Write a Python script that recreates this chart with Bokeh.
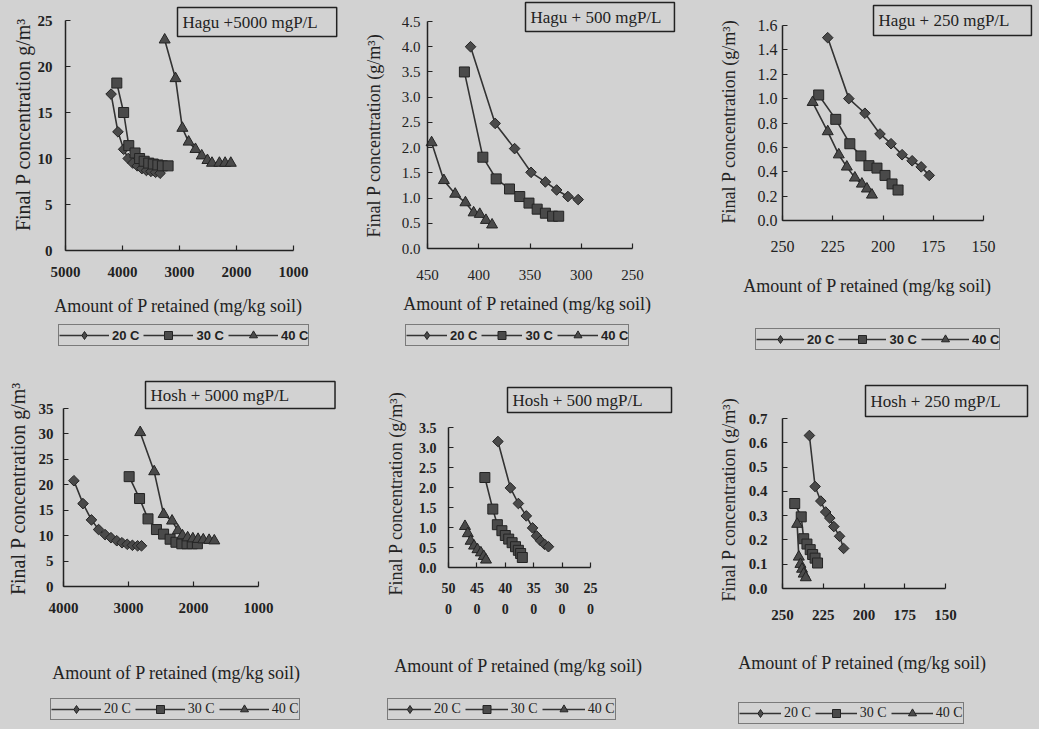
import math
from bokeh.plotting import figure
from bokeh.models import (Range1d, FixedTicker, Label, Legend, LegendItem,
                          PrintfTickFormatter, LinearAxis)
from bokeh.layouts import column, row
from bokeh.embed import file_html
from bokeh.resources import INLINE

# ---------------- data ----------------
temps = ["20 C", "30 C", "40 C"]
titles = ["Hagu +5000 mgP/L", "Hagu + 500 mgP/L", "Hagu + 250 mgP/L",
          "Hosh + 5000 mgP/L", "Hosh + 500 mgP/L", "Hosh + 250 mgP/L"]
x_title = "Amount of P retained (mg/kg soil)"
y_title_a = "Final P concentration g/m\u00b3"
y_title_b = "Final P concentration (g/m\u00b3)"

# Hagu + 5000 mgP/L
hagu5000_ret_20 = [4200, 4080, 3980, 3900, 3820, 3740, 3660, 3580, 3500, 3420, 3340]
hagu5000_p_20 = [17.0, 12.9, 11.0, 10.0, 9.5, 9.2, 8.9, 8.7, 8.6, 8.5, 8.4]
hagu5000_ret_30 = [4100, 3980, 3890, 3780, 3700, 3620, 3540, 3460, 3380, 3300, 3200]
hagu5000_p_30 = [18.2, 15.0, 11.4, 10.6, 10.0, 9.7, 9.5, 9.4, 9.3, 9.2, 9.2]
hagu5000_ret_40 = [3260, 3070, 2950, 2840, 2720, 2610, 2510, 2430, 2300, 2200, 2100]
hagu5000_p_40 = [22.9, 18.7, 13.3, 11.8, 11.0, 10.3, 9.8, 9.5, 9.5, 9.5, 9.5]

# Hagu + 500 mgP/L
hagu500_ret_20 = [408, 384, 365, 349, 335, 324, 313, 303]
hagu500_p_20 = [4.0, 2.48, 1.98, 1.51, 1.32, 1.16, 1.03, 0.97]
hagu500_ret_30 = [414, 396, 383, 370, 360, 351, 343, 335, 328, 322]
hagu500_p_30 = [3.5, 1.81, 1.38, 1.18, 1.03, 0.90, 0.78, 0.70, 0.64, 0.64]
hagu500_ret_40 = [446, 434, 423, 413, 405, 399, 393, 387]
hagu500_p_40 = [2.1, 1.35, 1.08, 0.91, 0.71, 0.68, 0.56, 0.47]

# Hagu + 250 mgP/L
hagu250_ret_20 = [227.5, 217, 209, 201.5, 196, 190.5, 185.5, 181, 177]
hagu250_p_20 = [1.5, 1.0, 0.88, 0.71, 0.63, 0.54, 0.49, 0.44, 0.37]
hagu250_ret_30 = [232, 223.5, 216.5, 211, 207, 203, 199, 195.5, 192.5]
hagu250_p_30 = [1.03, 0.83, 0.63, 0.53, 0.45, 0.43, 0.37, 0.30, 0.25]
hagu250_ret_40 = [235, 227.5, 222, 218, 214, 210.5, 208, 205.5]
hagu250_p_40 = [0.97, 0.73, 0.54, 0.44, 0.35, 0.30, 0.26, 0.21]

# Hosh + 5000 mgP/L
hosh5000_ret_20 = [3840, 3700, 3570, 3460, 3360, 3270, 3180, 3100, 3020, 2940, 2860, 2800]
hosh5000_p_20 = [20.8, 16.3, 13.1, 11.2, 10.2, 9.6, 9.0, 8.6, 8.3, 8.1, 8.0, 8.0]
hosh5000_ret_30 = [2990, 2830, 2700, 2570, 2460, 2360, 2270, 2180, 2100, 2020, 1940]
hosh5000_p_30 = [21.6, 17.3, 13.3, 11.2, 10.3, 9.3, 8.7, 8.4, 8.4, 8.4, 8.4]
hosh5000_ret_40 = [2820, 2605, 2460, 2330, 2240, 2170, 2090, 2010, 1930, 1850, 1760, 1680]
hosh5000_p_40 = [30.3, 22.6, 14.2, 12.9, 11.0, 10.0, 9.6, 9.4, 9.3, 9.2, 9.1, 9.0]

# Hosh + 500 mgP/L
hosh500_ret_20 = [413, 391, 377, 363, 352, 345, 338, 331, 324]
hosh500_p_20 = [3.15, 1.99, 1.60, 1.29, 0.99, 0.79, 0.67, 0.58, 0.52]
hosh500_ret_30 = [436, 422, 414, 406, 400, 394, 388, 382, 377, 373, 370]
hosh500_p_30 = [2.25, 1.46, 1.07, 0.92, 0.80, 0.71, 0.62, 0.52, 0.43, 0.35, 0.25]
hosh500_ret_40 = [471, 466, 461, 455, 449, 443, 438, 434]
hosh500_p_40 = [1.03, 0.85, 0.66, 0.54, 0.45, 0.37, 0.28, 0.19]

# Hosh + 250 mgP/L
hosh250_ret_20 = [233.5, 230, 226.5, 223.5, 221, 218.5, 215, 212.5]
hosh250_p_20 = [0.63, 0.42, 0.36, 0.315, 0.29, 0.255, 0.215, 0.165]
hosh250_ret_30 = [242.5, 238.5, 237, 235, 233, 231.5, 230, 228.5]
hosh250_p_30 = [0.35, 0.295, 0.205, 0.183, 0.16, 0.14, 0.125, 0.105]
hosh250_ret_40 = [241, 240, 239, 238, 237, 235.7]
hosh250_p_40 = [0.265, 0.13, 0.10, 0.08, 0.06, 0.045]

# axis ticks
x_ticks_5000a = [5000, 4000, 3000, 2000, 1000]
y_ticks_5000a = [0, 5, 10, 15, 20, 25]
x_ticks_500a = [450, 400, 350, 300, 250]
y_ticks_500a = [0, 0.5, 1.0, 1.5, 2.0, 2.5, 3.0, 3.5, 4.0, 4.5]
x_ticks_250 = [250, 225, 200, 175, 150]
y_ticks_250a = [0, 0.2, 0.4, 0.6, 0.8, 1.0, 1.2, 1.4, 1.6]
x_ticks_5000b = [4000, 3000, 2000, 1000]
y_ticks_5000b = [0, 5, 10, 15, 20, 25, 30, 35]
x_ticks_500b = [500, 450, 400, 350, 300, 250]
x_labels_500b = ["50\n0", "45\n0", "40\n0", "35\n0", "30\n0", "25\n0"]
y_ticks_500b = [0, 0.5, 1.0, 1.5, 2.0, 2.5, 3.0, 3.5]
y_ticks_250b = [0, 0.1, 0.2, 0.3, 0.4, 0.5, 0.6, 0.7]

# ---------------- style ----------------
BG = "#d2d2d2"
INK = "#222222"
LINE = "#333333"
FILL = "#4a4a4a"
EDGE = "#242424"
SERIF = "Liberation Serif"
SANS = "Liberation Sans"

# (plot marker, size, angle, legend marker or None to reuse the plotted marker)
MARKERS = [("square", 7.5, math.pi / 4, "diamond"),
           ("square", 10, 0.0, None),
           ("triangle", 11, 0.0, None)]

NAN = float("nan")


def make_panel(c, series):
    w, h = c["w"], c["h"]
    xt, yt = c["xticks"], c["yticks"]
    xa, xb = xt[0], xt[-1]
    x0px, x1px = c["xpx"]
    y0px, y1px = c["ypx"]
    ytop = yt[-1]
    kx = (xb - xa) / (x1px - x0px)
    ky = ytop / (y0px - y1px)
    xr = Range1d(xa - x0px * kx, xa + (w - x0px) * kx)
    yr = Range1d((y0px - h) * ky, y0px * ky)

    p = figure(width=w, height=h, output_backend="svg", toolbar_location=None,
               title=None, x_range=xr, y_range=yr,
               x_axis_location=None, y_axis_location=None,
               min_border=0, min_border_left=0, min_border_right=0,
               min_border_top=0, min_border_bottom=0,
               background_fill_color=BG, border_fill_color=BG, outline_line_color=None,
               styles={"background-color": BG})
    p.grid.visible = False

    xaxis = LinearAxis(fixed_location=0, bounds=(min(xa, xb), max(xa, xb)),
                       ticker=FixedTicker(ticks=xt))
    yaxis = LinearAxis(fixed_location=xa, bounds=(0, ytop),
                       ticker=FixedTicker(ticks=yt))
    for ax in (xaxis, yaxis):
        ax.axis_line_color = INK
        ax.axis_line_width = 1.5
        ax.major_tick_line_color = INK
        ax.major_tick_line_width = 1.2
        ax.major_tick_in = 5
        ax.major_tick_out = 0
        ax.minor_tick_line_color = None
        ax.major_label_text_font = SERIF
        ax.major_label_text_font_size = c["tick_size"]
        ax.major_label_text_font_style = c["tick_style"]
        ax.major_label_text_color = INK
    if c.get("xlabels"):
        xaxis.major_label_overrides = {t: s for t, s in zip(xt, c["xlabels"])}
        xaxis.major_label_text_line_height = 1.45
    if c.get("yfmt"):
        yaxis.formatter = PrintfTickFormatter(format=c["yfmt"])
    xaxis.major_label_standoff = c["xstand"]
    yaxis.major_label_standoff = c["ystand"]
    p.add_layout(xaxis, "below")
    p.add_layout(yaxis, "left")

    items = []
    for (lab, xs, ys), (mk, sz, ang, lmk) in zip(series, MARKERS):
        lr = p.line(xs, ys, line_color=LINE, line_width=1.6)
        sr = p.scatter(xs, ys, marker=mk, size=sz, angle=ang,
                       fill_color=FILL, line_color=EDGE, line_width=1)
        if lmk is not None:
            # legend-only swatch (a single NaN point, so nothing is drawn in the plot)
            sr = p.scatter(x=[NAN], y=[NAN], marker=lmk, size=sz,
                           fill_color=FILL, line_color=EDGE, line_width=1)
        items.append(LegendItem(label=lab, renderers=[lr, sr]))

    lx, lby = c["leg"]
    leg = Legend(items=items, orientation="horizontal", location=(lx, h - lby),
                 background_fill_color=BG, background_fill_alpha=1.0,
                 border_line_color=INK, border_line_width=1.2,
                 padding=0, spacing=4, margin=0,
                 glyph_width=c["leg_gw"], glyph_height=20, label_height=20,
                 label_standoff=3, label_text_font=c["leg_font"],
                 label_text_font_size=c["leg_size"],
                 label_text_font_style=c["leg_style"], label_text_color=INK)
    p.add_layout(leg)

    # x-axis title
    xcx, xcy = c["xlab"]
    p.add_layout(Label(x=xcx, y=h - xcy, x_units="screen", y_units="screen",
                       text=x_title, text_font=SERIF, text_font_size="18px",
                       text_color=INK, text_align="center", text_baseline="middle"))
    # y-axis title
    ycx, ycy = c["ylab"]
    p.add_layout(Label(x=ycx, y=h - ycy, x_units="screen", y_units="screen",
                       text=c["ytitle"], text_font=SERIF, text_font_size=c["ylab_size"],
                       text_color=INK, text_align="center", text_baseline="middle",
                       angle=math.pi / 2))
    # boxed panel title
    bx, btop, pad = c["title_box"]
    p.add_layout(Label(x=bx, y=h - btop, x_units="screen", y_units="screen",
                       text=c["title"], anchor="top_left", text_font=SERIF,
                       text_font_size="17px", text_color=INK,
                       background_fill_color=BG, background_fill_alpha=1.0,
                       border_line_color=INK, border_line_width=1.5, padding=pad))
    return p


cfgs = [
    dict(w=345, h=362, xticks=x_ticks_5000a, yticks=y_ticks_5000a, xpx=(65, 293), ypx=(250, 20),
         yfmt=None, tick_size="15px", tick_style="bold", xstand=16, ystand=13,
         xlab=(178, 305), ylab=(22, 124), ytitle=y_title_a, ylab_size="20px",
         leg=(58, 346), leg_gw=50, leg_font=SANS, leg_size="13px", leg_style="bold",
         title=titles[0], title_box=(177, 7, dict(left=5, right=19, top=5, bottom=5))),
    dict(w=345, h=362, xticks=x_ticks_500a, yticks=y_ticks_500a, xpx=(82, 287), ypx=(248, 21),
         yfmt="%.1f", tick_size="15px", tick_style="normal", xstand=21, ystand=7,
         xlab=(182, 303), ylab=(28, 135), ytitle=y_title_b, ylab_size="18px",
         leg=(60, 346), leg_gw=41, leg_font=SANS, leg_size="13px", leg_style="bold",
         title=titles[1], title_box=(180, 2, dict(left=5, right=13, top=5, bottom=5))),
    dict(w=349, h=362, xticks=x_ticks_250, yticks=y_ticks_250a, xpx=(92, 293), ypx=(220, 25),
         yfmt="%.1f", tick_size="16px", tick_style="normal", xstand=20, ystand=5,
         xlab=(177, 285), ylab=(38, 121), ytitle=y_title_b, ylab_size="18px",
         leg=(65, 350), leg_gw=48, leg_font=SANS, leg_size="13px", leg_style="bold",
         title=titles[2], title_box=(183, 5, dict(left=5, right=22, top=5, bottom=6))),
    dict(w=345, h=367, xticks=x_ticks_5000b, yticks=y_ticks_5000b, xpx=(63, 258), ypx=(224, 46),
         yfmt=None, tick_size="15px", tick_style="bold", xstand=16, ystand=10,
         xlab=(176, 310), ylab=(17, 126), ytitle=y_title_a, ylab_size="20px",
         leg=(50, 358), leg_gw=50, leg_font=SERIF, leg_size="14px", leg_style="normal",
         title=titles[3], title_box=(145, 19, dict(left=5, right=46, top=4, bottom=4))),
    dict(w=345, h=367, xticks=x_ticks_500b, xlabels=x_labels_500b, yticks=y_ticks_500b,
         xpx=(103, 245), ypx=(205, 65),
         yfmt="%.1f", tick_size="14px", tick_style="bold", xstand=13, ystand=12,
         xlab=(173, 303), ylab=(50, 131), ytitle=y_title_b, ylab_size="18px",
         leg=(42, 358), leg_gw=43, leg_font=SERIF, leg_size="14px", leg_style="normal",
         title=titles[4], title_box=(162, 25, dict(left=5, right=29, top=3, bottom=3))),
    dict(w=349, h=367, xticks=x_ticks_250, yticks=y_ticks_250b, xpx=(92, 255), ypx=(226, 56),
         yfmt="%.1f", tick_size="15px", tick_style="bold", xstand=21, ystand=15,
         xlab=(172, 300), ylab=(38, 137), ytitle=y_title_b, ylab_size="18px",
         leg=(48, 362), leg_gw=42, leg_font=SERIF, leg_size="14px", leg_style="normal",
         title=titles[5], title_box=(175, 23, dict(left=5, right=27, top=6, bottom=6))),
]

all_series = [
    [(temps[0], hagu5000_ret_20, hagu5000_p_20), (temps[1], hagu5000_ret_30, hagu5000_p_30),
     (temps[2], hagu5000_ret_40, hagu5000_p_40)],
    [(temps[0], hagu500_ret_20, hagu500_p_20), (temps[1], hagu500_ret_30, hagu500_p_30),
     (temps[2], hagu500_ret_40, hagu500_p_40)],
    [(temps[0], hagu250_ret_20, hagu250_p_20), (temps[1], hagu250_ret_30, hagu250_p_30),
     (temps[2], hagu250_ret_40, hagu250_p_40)],
    [(temps[0], hosh5000_ret_20, hosh5000_p_20), (temps[1], hosh5000_ret_30, hosh5000_p_30),
     (temps[2], hosh5000_ret_40, hosh5000_p_40)],
    [(temps[0], hosh500_ret_20, hosh500_p_20), (temps[1], hosh500_ret_30, hosh500_p_30),
     (temps[2], hosh500_ret_40, hosh500_p_40)],
    [(temps[0], hosh250_ret_20, hosh250_p_20), (temps[1], hosh250_ret_30, hosh250_p_30),
     (temps[2], hosh250_ret_40, hosh250_p_40)],
]

panels = [make_panel(c, s) for c, s in zip(cfgs, all_series)]
layout = column(row(panels[0], panels[1], panels[2], styles={"background-color": BG}),
                row(panels[3], panels[4], panels[5], styles={"background-color": BG}),
                styles={"background-color": BG})

open("out.html", "w").write(file_html(layout, INLINE))
